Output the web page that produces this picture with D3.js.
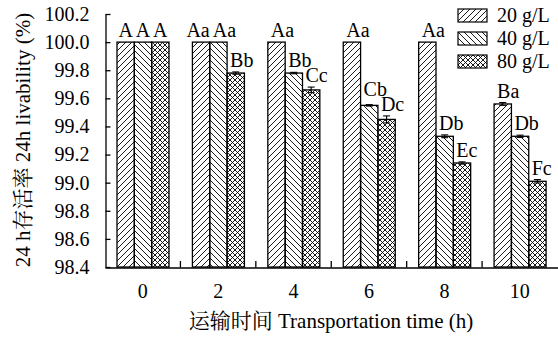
<!DOCTYPE html>
<html>
<head>
<meta charset="utf-8">
<script src="https://cdn.jsdelivr.net/npm/d3@7"></script>
<style>
	body { margin: 0; background: #fff; }
	text { font-family: 'Times New Roman', 'Liberation Serif', 'Noto Serif CJK SC', 'Noto Sans CJK SC', serif; fill: #000; }
</style>
</head>
<body>
<div id="chart"></div>
<script>
// transport time groups (h)
const groups = ['0', '2', '4', '6', '8', '10']
const series = ['20 g/L', '40 g/L', '80 g/L']

// 24h livability (%)
const s20 = [100, 100, 100, 100, 100, 99.56]
const s40 = [100, 100, 99.78, 99.55, 99.33, 99.33]
const s80 = [100, 99.78, 99.66, 99.45, 99.14, 99.01]

const err20 = [0, 0, 0, 0, 0, 0.01]
const err40 = [0, 0, 0.005, 0.005, 0.01, 0.008]
const err80 = [0, 0.008, 0.02, 0.025, 0.008, 0.012]

const lab20 = ['A', 'Aa', 'Aa', 'Aa', 'Aa', 'Ba']
const lab40 = ['A', 'Aa', 'Bb', 'Cb', 'Db', 'Db']
const lab80 = ['A', 'Bb', 'Cc', 'Dc', 'Ec', 'Fc']

const yTicks = [98.4, 98.6, 98.8, 99.0, 99.2, 99.4, 99.6, 99.8, 100.0, 100.2]

const width = 558
const height = 340

const values = [s20, s40, s80]
const errs = [err20, err40, err80]
const labs = [lab20, lab40, lab80]

const bars = []
groups.forEach((g, i) => {
	series.forEach((s, j) => {
		bars.push({ group: g, series: s, k: j, i: i, value: values[j][i], err: errs[j][i], label: labs[j][i] })
	})
})

const svg = d3.select('#chart').append('svg').attr('width', width).attr('height', height)

// hatch patterns
const defs = svg.append('defs')
const pat = (id, size, d) => {
	defs.append('pattern')
		.attr('id', id)
		.attr('patternUnits', 'userSpaceOnUse')
		.attr('width', size)
		.attr('height', size)
		.append('path')
		.attr('d', d)
		.attr('stroke', '#000')
		.attr('stroke-width', 0.9)
		.attr('fill', 'none')
}
pat('p20', 6, 'M0,6L6,0M-1,1L1,-1M5,7L7,5')
pat('p40', 6, 'M0,0L6,6M-1,5L1,7M5,-1L7,1')
pat('p80', 5, 'M0,5L5,0M-1,1L1,-1M4,6L6,4M0,0L5,5M-1,4L1,6M4,-1L6,1')
const fills = { '20 g/L': 'url(#p20)', '40 g/L': 'url(#p40)', '80 g/L': 'url(#p80)' }

const x = d3.scaleBand().domain(groups).range([105, 557.5]).paddingInner(0).paddingOuter(0)
const xs = d3.scaleBand().domain(series).range([12, 64])
const y = d3.scaleLinear().domain([98.4, 100.2]).range([267, 14])

// bars
svg.append('g')
	.selectAll('rect')
	.data(bars)
	.join('rect')
	.attr('x', d => x(d.group) + xs(d.series))
	.attr('y', d => y(d.value))
	.attr('width', xs.bandwidth())
	.attr('height', d => y(98.4) - y(d.value))
	.attr('fill', d => fills[d.series])
	.attr('stroke', '#000')
	.attr('stroke-width', 1.3)

// error bars
const eb = svg.append('g').attr('stroke', '#000').attr('stroke-width', 1.1)
bars.filter(d => d.err > 0).forEach(d => {
	const cx = x(d.group) + xs(d.series) + xs.bandwidth() / 2
	const y1 = y(d.value + d.err)
	const y0 = y(d.value - d.err)
	eb.append('line').attr('x1', cx).attr('x2', cx).attr('y1', y1).attr('y2', y0)
	eb.append('line').attr('x1', cx - 3.5).attr('x2', cx + 3.5).attr('y1', y1).attr('y2', y1)
	eb.append('line').attr('x1', cx - 3.5).attr('x2', cx + 3.5).attr('y1', y0).attr('y2', y0)
})

// significance letters
const labelY = d => y(d.value + d.err) - 5
svg.append('g')
	.selectAll('text')
	.data(bars)
	.join('text')
	.attr('font-size', 20)
	.attr('text-anchor', d => (d.label.length === 1 ? 'middle' : 'start'))
	.attr('x', d => {
		const left = x(d.group) + xs(d.series)
		if (d.label.length === 1) return left + xs.bandwidth() / 2
		// shift left when the next bar carries a label at the same height
		if (d.k < 2 && values[d.k + 1][d.i] === d.value) return left - 6
		return left + 3
	})
	.attr('y', d => {
		let ly = labelY(d)
		// raise a little when the next label sits too close below
		if (d.k < 2 && d.label.length > 1) {
			const next = bars.find(b => b.i === d.i && b.k === d.k + 1)
			const gap = labelY(next) - ly
			if (gap > 0 && gap < 15) ly = labelY(next) - 15
		}
		return ly
	})
	.text(d => d.label)

// y axis, ticks pointing inward
const yAxis = svg.append('g')
	.attr('transform', 'translate(105.5,0)')
	.call(d3.axisLeft(y).tickValues(yTicks).tickFormat(d3.format('.1f')).tickSizeInner(-5).tickSizeOuter(0).tickPadding(16))
yAxis.select('.domain').attr('stroke-width', 1.3)
yAxis.selectAll('.tick line').attr('stroke-width', 1.3)
yAxis.selectAll('.tick text').attr('font-size', 20).attr('font-family', null)

// x axis
const xAxis = svg.append('g')
	.attr('transform', 'translate(0,267.5)')
	.call(d3.axisBottom(x).tickSize(0).tickPadding(16))
xAxis.select('.domain').attr('stroke-width', 1.3)
xAxis.selectAll('.tick text').attr('font-size', 20).attr('font-family', null)
svg.append('g')
	.selectAll('line')
	.data(groups.slice(1))
	.join('line')
	.attr('x1', d => x(d))
	.attr('x2', d => x(d))
	.attr('y1', 267.5)
	.attr('y2', 261)
	.attr('stroke', '#000')
	.attr('stroke-width', 1.3)

// axis titles
svg.append('text')
	.attr('x', 331)
	.attr('y', 328)
	.attr('text-anchor', 'middle')
	.attr('font-size', 21)
	.text('运输时间 Transportation time (h)')

svg.append('text')
	.attr('transform', 'translate(30,140) rotate(-90)')
	.attr('text-anchor', 'middle')
	.attr('font-size', 21)
	.text('24 h存活率 24h livability (%)')

// legend
const legend = svg.append('g')
	.selectAll('g')
	.data(series)
	.join('g')
	.attr('transform', (d, i) => `translate(458,${9 + i * 23})`)
legend.append('rect')
	.attr('width', 29)
	.attr('height', 13)
	.attr('fill', d => fills[d])
	.attr('stroke', '#000')
	.attr('stroke-width', 1.2)
legend.append('text')
	.attr('x', 39)
	.attr('y', 13)
	.attr('font-size', 20)
	.text(d => d)
</script>
</body>
</html>
